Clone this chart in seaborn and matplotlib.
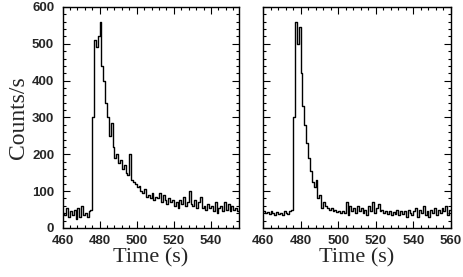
import numpy as np
import pandas as pd
import matplotlib
matplotlib.use("Agg")
import matplotlib.pyplot as plt
from matplotlib.ticker import MultipleLocator
import seaborn as sns

# 1 s bins, left edge of each bin
time_left = list(range(460, 556))
counts_left = [40, 35, 55, 30, 45, 35, 50, 25, 55, 30,
               60, 35, 40, 30, 45, 50, 300, 510, 490, 520,
               560, 440, 400, 340, 300, 250, 285, 220, 190, 200,
               175, 185, 160, 170, 150, 145, 200, 130, 125, 120,
               110, 115, 100, 95, 105, 85, 90, 80, 95, 75,
               85, 80, 95, 70, 90, 75, 65, 80, 70, 75,
               60, 70, 55, 75, 65, 85, 60, 70, 100, 65,
               60, 75, 55, 70, 85, 55, 60, 50, 65, 55,
               60, 45, 70, 40, 55, 60, 45, 70, 50, 65,
               45, 60, 50, 55, 45, 45]

time_right = list(range(460, 561))
counts_right = [45, 40, 42, 38, 45, 40, 35, 42, 38, 40,
                35, 45, 40, 38, 45, 50, 300, 560, 500, 545,
                420, 330, 280, 230, 190, 155, 125, 110, 130, 80,
                90, 55, 70, 60, 55, 50, 55, 45, 50, 42,
                45, 40, 45, 40, 70, 35, 60, 45, 55, 40,
                60, 45, 55, 40, 50, 35, 60, 45, 70, 40,
                55, 65, 45, 50, 40, 45, 38, 45, 35, 42,
                38, 50, 35, 45, 38, 45, 30, 50, 40, 35,
                45, 55, 30, 50, 40, 60, 35, 45, 30, 50,
                40, 55, 35, 50, 40, 55, 45, 60, 35, 50, 50]

xticks_left = [460, 480, 500, 520, 540]
xticks_right = [460, 480, 500, 520, 540, 560]
yticks = [0, 100, 200, 300, 400, 500, 600]

df_l = pd.DataFrame({"time": time_left, "counts": counts_left})
df_r = pd.DataFrame({"time": time_right, "counts": counts_right})

sns.set_style("ticks")
fig = plt.figure(figsize=(4.63, 2.77), dpi=100)
ax1 = fig.add_axes([0.135, 0.177, 0.381, 0.798])
ax2 = fig.add_axes([0.568, 0.177, 0.406, 0.798])

tick_font = dict(fontweight="bold", family="Liberation Sans", fontsize=9.5)
label_font = dict(family="Liberation Serif", fontsize=16)

for ax, df, xmax, xt in [(ax1, df_l, 555, xticks_left), (ax2, df_r, 560, xticks_right)]:
    sns.lineplot(data=df, x="time", y="counts", ax=ax, color="black",
                 drawstyle="steps-post", linewidth=1.0, estimator=None)
    ax.set_xlim(460, xmax)
    ax.set_ylim(0, 600)
    ax.set_xticks(xt, [str(v) for v in xt], **tick_font)
    ax.set_yticks(yticks, [str(v) for v in yticks], **tick_font)
    ax.xaxis.set_minor_locator(MultipleLocator(4))
    ax.yaxis.set_minor_locator(MultipleLocator(20))
    ax.tick_params(which="both", direction="in", top=True, right=True,
                   color="black", width=0.8)
    ax.tick_params(which="major", length=5)
    ax.tick_params(axis="x", which="major", pad=5)
    ax.tick_params(axis="y", which="major", pad=6)
    ax.tick_params(which="minor", length=2.5)
    for sp in ax.spines.values():
        sp.set_linewidth(1.0)
        sp.set_color("black")
    ax.set_xlabel("Time (s)", labelpad=1, **label_font)
    ax.set_ylabel("")

ax1.set_ylabel("Counts/s", labelpad=2, fontsize=17, family="Liberation Serif")
ax2.tick_params(labelleft=False)

fig.savefig("out.png", dpi=100)
